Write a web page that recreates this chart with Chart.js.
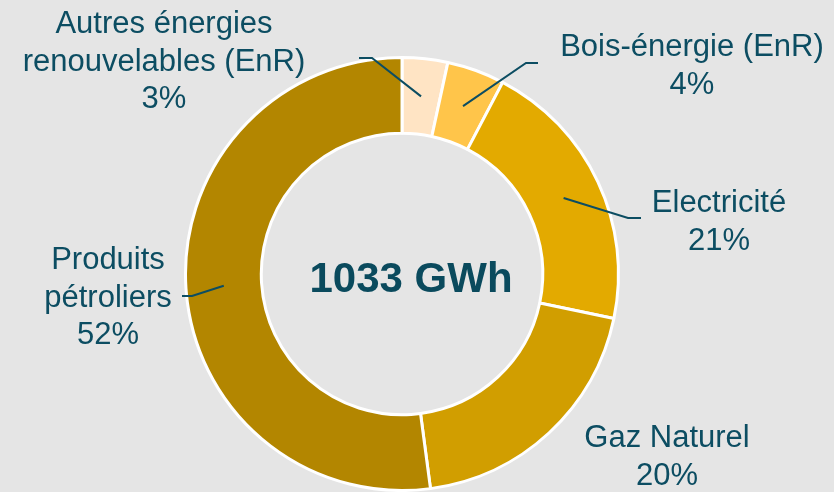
<!DOCTYPE html>
<html>
<head>
<meta charset="utf-8">
<script src="https://cdn.jsdelivr.net/npm/chart.js@4/dist/chart.umd.min.js"></script>
<style>
  html, body { margin: 0; padding: 0; background: #e5e5e5; }
  #wrap { width: 834px; height: 492px; position: relative; }
</style>
</head>
<body>
<div id="wrap"><canvas id="c" width="834" height="492"></canvas></div>
<script>
// ---- data ----
const categories = [
  ["Autres énergies", "renouvelables (EnR)"],
  ["Bois-énergie (EnR)"],
  ["Electricité"],
  ["Gaz Naturel"],
  ["Produits", "pétroliers"]
];
const shares = [3.4, 4.3, 20.6, 19.6, 52.1];   // % of total consumption
const totalLabel = "1033 GWh";

// ---- styles / layout ----
const colors = ["#FFE4C4", "#FFC54A", "#E3AA00", "#D19E00", "#B38600"];
const textColor = "#0C4D62";
// label layout: text centre x, first baseline y; leader elbow & end (null = no line)
const labelLayout = [
  { x: 164, y: 33,  elbow: [372, 58],  end: [359, 58] },
  { x: 692, y: 56,  elbow: [526, 63],  end: [538, 63] },
  { x: 719, y: 212, elbow: [628, 218], end: [641, 218] },
  { x: 667, y: 447, elbow: null, end: null },
  { x: 108, y: 269, elbow: [192, 296], end: [182, 296] }
];

const labelPlugin = {
  id: 'outerLabels',
  afterDatasetsDraw(chart) {
    const ctx = chart.ctx;
    const meta = chart.getDatasetMeta(0);
    ctx.save();
    // leader lines
    ctx.strokeStyle = textColor;
    ctx.lineWidth = 2;
    meta.data.forEach((arc, i) => {
      const L = labelLayout[i];
      if (!L.elbow) return;
      const p = arc.getProps(['x', 'y', 'startAngle', 'endAngle', 'innerRadius', 'outerRadius'], true);
      const mid = (p.startAngle + p.endAngle) / 2;
      const r = (p.innerRadius + p.outerRadius) / 2;
      const ax = p.x + Math.cos(mid) * r;
      const ay = p.y + Math.sin(mid) * r;
      ctx.beginPath();
      ctx.moveTo(ax, ay);
      ctx.lineTo(L.elbow[0], L.elbow[1]);
      ctx.lineTo(L.end[0], L.end[1]);
      ctx.stroke();
    });
    // labels
    ctx.fillStyle = textColor;
    ctx.font = '31px "Liberation Sans", Arial, sans-serif';
    ctx.textAlign = 'center';
    ctx.textBaseline = 'alphabetic';
    const lh = 37.5;
    categories.forEach((lines, i) => {
      const L = labelLayout[i];
      const all = lines.concat([Math.round(shares[i]) + '%']);
      all.forEach((t, k) => ctx.fillText(t, L.x, L.y + k * lh));
    });
    // centre total
    const p0 = meta.data[0].getProps(['x', 'y'], true);
    ctx.font = 'bold 42px "Liberation Sans", Arial, sans-serif';
    ctx.fillStyle = '#0A4A5D';
    ctx.fillText(totalLabel, p0.x + 9, p0.y + 18);
    ctx.restore();
  }
};

new Chart(document.getElementById('c'), {
  type: 'doughnut',
  data: {
    labels: categories.map(l => l.join(' ')),
    datasets: [{
      data: shares,
      backgroundColor: colors,
      borderColor: '#ffffff',
      borderWidth: 3
    }]
  },
  options: {
    responsive: false,
    animation: false,
    cutout: '65%',
    layout: { padding: { top: 56, bottom: 0, left: 0, right: 30 } },
    plugins: { legend: { display: false }, tooltip: { enabled: false } }
  },
  plugins: [labelPlugin]
});
</script>
</body>
</html>
